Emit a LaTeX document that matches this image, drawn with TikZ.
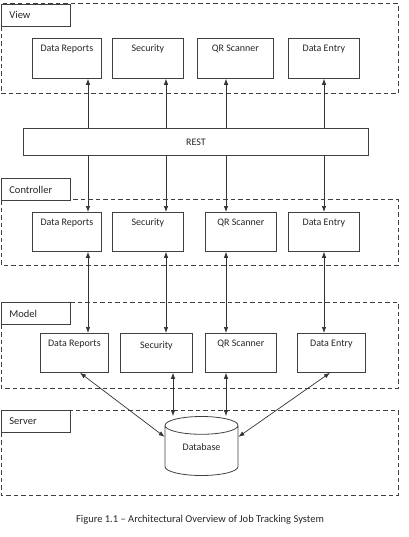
\documentclass[tikz,border=0pt]{standalone}
\usepackage{fontspec}
\setmainfont{Carlito}
\usepackage{tikz}
\usetikzlibrary{shapes.geometric}
\usetikzlibrary{arrows.meta}
\tikzset{
	unit/.style={draw=black!75,line width=0.8pt,anchor=north west,minimum width=#1,text height=10pt,text depth=24pt,inner sep=3pt,text=black!85},
	lowunit/.style={unit=#1,text depth=23pt},
	layer/.style={draw=black!75,line width=1pt,dash pattern=on 4.5pt off 3pt},
	tag/.style={draw=black!75,fill=white,line width=0.8pt,anchor=north west,text width=53pt,inner xsep=8pt,minimum height=22pt,align=left,text=black!85,font=\fontsize{10.5}{12}\selectfont},
	link/.style={line width=0.7pt,draw=black!80,-{Latex[length=6pt,width=4.5pt]}},
	both/.style={line width=0.7pt,draw=black!80,{Latex[length=6pt,width=4.5pt]}-{Latex[length=6pt,width=4.5pt]}},
	store/.style={cylinder,shape border rotate=90,aspect=0.4,draw=black!75,line width=0.8pt,minimum width=73pt,minimum height=59pt,text height=7pt,text depth=11pt,text=black!85}
}
\begin{document}
\begin{tikzpicture}[x=1pt,y=-1pt,font=\fontsize{10}{12}\selectfont]
	\useasboundingbox (0,0) rectangle (408,537);
	\coordinate (c1) at (88,0);
	\coordinate (c2) at (166,0);
	\coordinate (c3) at (226,0);
	\coordinate (c4) at (324,0);
	\coordinate (d1) at (80,0);
	\coordinate (d2) at (173,0);
	\coordinate (d4) at (330,0);
	\draw[layer] (1,4) rectangle (398,94);
	\node[tag] (view) at (1,4) {View};
	\node[unit=69pt] (vdr) at (32,38) {Data Reports};
	\node[unit=71pt] (vsec) at (112,38) {Security};
	\node[unit=76pt] (vqr) at (197,38) {QR Scanner};
	\node[unit=71pt] (vde) at (288,38) {Data Entry};
	\node[draw=black!75,line width=0.8pt,anchor=north west,minimum width=345pt,minimum height=27pt,text=black!85] (rest) at (23,128) {REST};
	\draw[layer] (1,200) rectangle (398,265);
	\node[tag] (ctrl) at (1,178) {Controller};
	\node[lowunit=69pt] (cdr) at (32,212) {Data Reports};
	\node[lowunit=71pt] (csec) at (112,212) {Security};
	\node[lowunit=71pt] (cqr) at (205,212) {QR Scanner};
	\node[lowunit=71pt] (cde) at (288,212) {Data Entry};
	\draw[layer] (1,302) rectangle (398,388);
	\node[tag] (model) at (1,302) {Model};
	\node[lowunit=68pt] (mdr) at (40,333) {Data Reports};
	\node[lowunit=72pt,text height=12pt,text depth=21pt] (msec) at (120,333) {Security};
	\node[lowunit=71pt] (mqr) at (205,333) {QR Scanner};
	\node[lowunit=68pt] (mde) at (297,333) {Data Entry};
	\draw[layer] (1,410) rectangle (398,495);
	\node[tag] (server) at (1,410) {Server};
	\node[store] (db) at (201.5,452.5) {Database};
	\draw[link] (rest.north -| c1) -- (vdr.south -| c1);
	\draw[link] (rest.north -| c2) -- (vsec.south -| c2);
	\draw[link] (rest.north -| c3) -- (vqr.south -| c3);
	\draw[link] (rest.north -| c4) -- (vde.south -| c4);
	\draw[link] (rest.south -| c1) -- (cdr.north -| c1);
	\draw[link] (rest.south -| c2) -- (csec.north -| c2);
	\draw[link] (rest.south -| c3) -- (cqr.north -| c3);
	\draw[link] (rest.south -| c4) -- (cde.north -| c4);
	\draw[both] (cdr.south -| c1) -- (mdr.north -| c1);
	\draw[both] (csec.south -| c2) -- (msec.north -| c2);
	\draw[both] (cqr.south -| c3) -- (mqr.north -| c3);
	\draw[both] (cde.south -| c4) -- (mde.north -| c4);
	\draw[both] (mdr.south -| d1) -- (db.157);
	\draw[both] (msec.south -| d2) -- (db.north -| d2);
	\draw[both] (mqr.south -| c3) -- (db.north -| c3);
	\draw[both] (mde.south -| d4) -- (db.23);
	\node[text=black!85,font=\fontsize{10.5}{12}\selectfont] (caption) at (200,520) {Figure 1.1 – Architectural Overview of Job Tracking System};
\end{tikzpicture}
\end{document}
